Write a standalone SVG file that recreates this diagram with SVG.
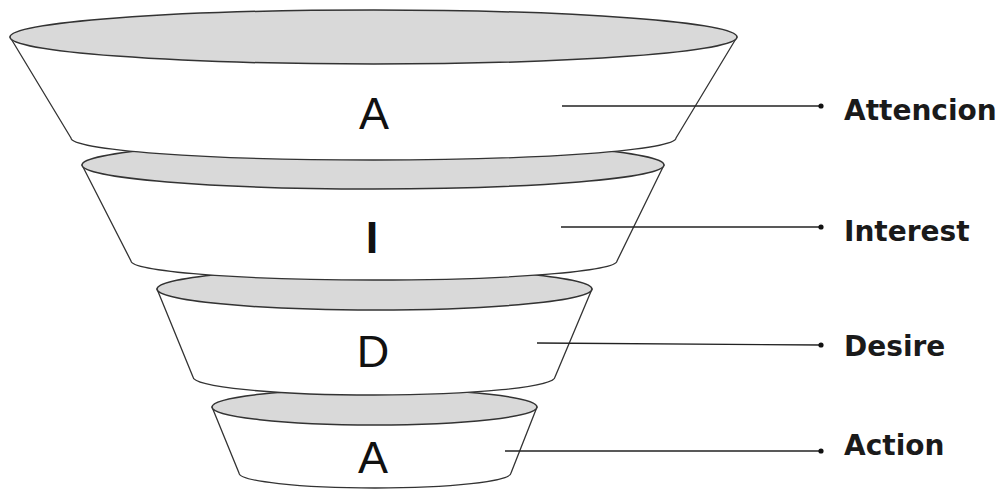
<svg xmlns="http://www.w3.org/2000/svg" width="1002" height="490" viewBox="0 0 1002 490">
<style>
.body{fill:#fff;stroke:#333;stroke-width:1.3;stroke-linejoin:round}
.top{fill:#d9d9d9;stroke:#333;stroke-width:1.5}
.big{font-family:"Liberation Sans",Arial,sans-serif;font-size:45px;fill:#111;text-anchor:middle}
.lbl{font-family:"DejaVu Sans",sans-serif;font-weight:bold;font-size:28px;fill:#1a1a1a}
.ln{stroke:#222;stroke-width:1.3;fill:none}
.dot{fill:#111}
</style>
<rect width="1002" height="490" fill="#fff"/>
<g id="tier4">
<path class="body" d="M212,407 L239,473 A136,15 0 0 0 511,473 L537,407 Z"/>
<ellipse class="top" cx="374.5" cy="407" rx="162.5" ry="18"/>
<text class="big" x="373" y="473">A</text>
</g>
<g id="tier3">
<path class="body" d="M157,289 L193,377 A181,18 0 0 0 555,377 L592,289 Z"/>
<ellipse class="top" cx="374.5" cy="289" rx="217.5" ry="21"/>
<text class="big" x="373" y="367">D</text>
</g>
<g id="tier2">
<path class="body" d="M82,165 L131,261 A243,19 0 0 0 617,261 L664,165 Z"/>
<ellipse class="top" cx="373" cy="165" rx="291" ry="24"/>
<text class="big" x="372" y="253" font-weight="bold">I</text>
</g>
<g id="tier1">
<path class="body" d="M10,37 L71,138 A302.5,22 0 0 0 676,138 L737,37 Z"/>
<ellipse class="top" cx="373.5" cy="37" rx="363.5" ry="27"/>
<text class="big" x="374" y="129">A</text>
</g>
<g id="connectors">
<line class="ln" x1="562" y1="106" x2="821" y2="106"/>
<circle class="dot" cx="821" cy="106" r="2.6"/>
<line class="ln" x1="561" y1="227" x2="821" y2="227"/>
<circle class="dot" cx="821" cy="227" r="2.6"/>
<line class="ln" x1="537" y1="343" x2="821" y2="345"/>
<circle class="dot" cx="821" cy="345" r="2.6"/>
<line class="ln" x1="505" y1="451" x2="821" y2="451"/>
<circle class="dot" cx="821" cy="451" r="2.6"/>
</g>
<g id="labels">
<text class="lbl" x="844" y="120">Attencion</text>
<text class="lbl" x="844" y="241">Interest</text>
<text class="lbl" x="844" y="356">Desire</text>
<text class="lbl" x="844" y="455">Action</text>
</g>
</svg>
